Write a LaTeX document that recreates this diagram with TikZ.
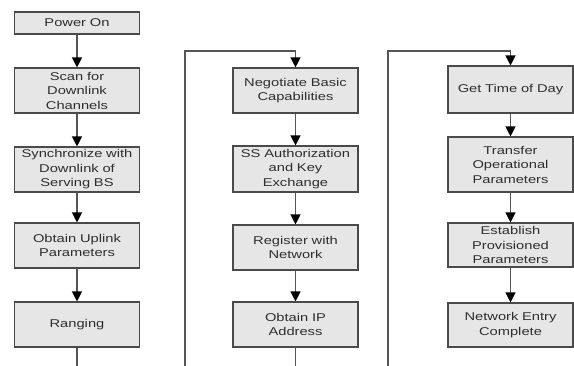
\documentclass[tikz,border=0pt]{standalone}
\usepackage{fontspec}
\setmainfont{Liberation Sans}[FakeStretch=1.3]
\usetikzlibrary{arrows.meta}
\definecolor{boxfill}{HTML}{E6E6E6}
\definecolor{boxline}{HTML}{4A4A4A}
\definecolor{conn}{HTML}{555555}
\definecolor{txt}{HTML}{2E2E2E}
\begin{document}
\begin{tikzpicture}[x=1pt,y=-1pt,
  stepbox/.style={draw=boxline,line width=1.1pt,fill=boxfill,inner sep=0pt,
    minimum width=125pt,text width=125pt,align=center,text=txt,
    font=\fontsize{11.3}{14.5}\selectfont},
  flow/.style={draw=conn,line width=1.2pt,-{Triangle[width=10pt,length=10pt,color=black]}},
  plain/.style={draw=conn,line width=1.2pt}]
\useasboundingbox (0,0) rectangle (574,366);
% column 1
\node[stepbox,minimum height=22pt] (p1) at (77,23) {Power On};
\node[stepbox,minimum height=45pt] (p2) at (77,90.5) {Scan for\\Downlink\\Channels};
\node[stepbox,minimum height=45pt] (p3) at (77,169.5) {Synchronize with\\Downlink of\\Serving BS};
\node[stepbox,minimum height=45pt] (p4) at (77,245.5) {Obtain Uplink\\Parameters};
\node[stepbox,minimum height=45pt] (p5) at (77,324.5) {Ranging};
% column 2
\node[stepbox,minimum height=45pt] (q1) at (295.5,90.5) {Negotiate Basic\\Capabilities};
\node[stepbox,minimum height=46pt] (q2) at (295.5,169) {SS Authorization\\and Key\\Exchange};
\node[stepbox,minimum height=45pt] (q3) at (295.5,247.5) {Register with\\Network};
\node[stepbox,minimum height=45pt] (q4) at (295.5,324.5) {Obtain IP\\Address};
% column 3
\node[stepbox,minimum height=47pt] (r1) at (510.5,89.5) {Get Time of Day};
\node[stepbox,minimum height=55pt] (r2) at (510.5,164.5) {Transfer\\Operational\\Parameters};
\node[stepbox,minimum height=44pt] (r3) at (510.5,245) {Establish\\Provisioned\\Parameters};
\node[stepbox,minimum height=44pt] (r4) at (510.5,325) {Network Entry\\Complete};
% coordinates for free ends
\coordinate (e1) at (77,366);
\coordinate (l2b) at (185,366);
\coordinate (l2t) at (185,51);
\coordinate (e2) at (295.5,366);
\coordinate (l3b) at (388,366);
\coordinate (l3t) at (388,51);
% connectors
\draw[flow] (p1) -- (p2);
\draw[flow] (p2) -- (p3);
\draw[flow] (p3) -- (p4);
\draw[flow] (p4) -- (p5);
\draw[plain] (p5) -- (e1);
\draw[flow] (l2b) -- (l2t) -| (q1.north);
\draw[flow] (q1) -- (q2);
\draw[flow] (q2) -- (q3);
\draw[flow] (q3) -- (q4);
\draw[plain] (q4) -- (e2);
\draw[flow] (l3b) -- (l3t) -| (r1.north);
\draw[flow] (r1) -- (r2);
\draw[flow] (r2) -- (r3);
\draw[flow] (r3) -- (r4);
\end{tikzpicture}
\end{document}
